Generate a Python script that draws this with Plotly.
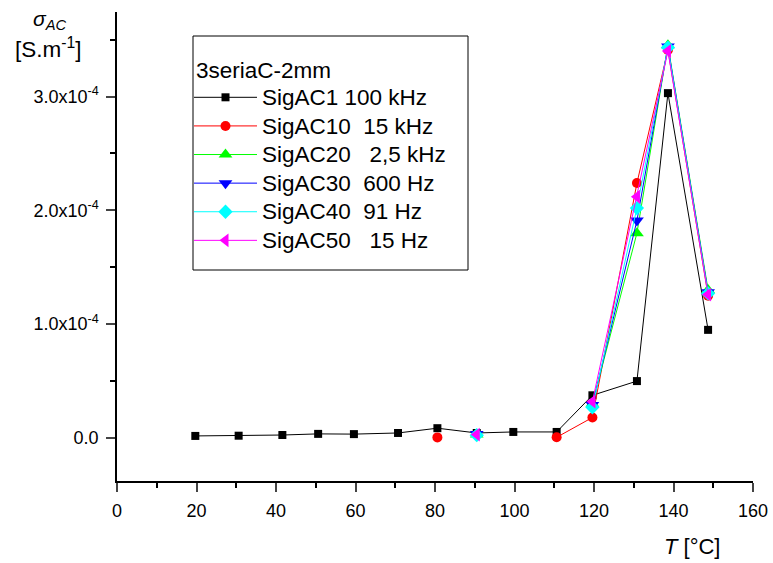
import plotly.graph_objects as go

# ---------------- data ----------------
T_ac1 = [19.7, 30.6, 41.6, 50.6, 59.6, 70.7, 80.6, 90.5, 99.7, 110.6, 119.6, 130.8, 138.6, 148.7]
sig_ac1 = [1.8e-6, 2.0e-6, 2.6e-6, 3.6e-6, 3.4e-6, 4.4e-6, 8.6e-6, 4.4e-6, 5.3e-6, 5.3e-6,
           3.75e-5, 5.0e-5, 3.03e-4, 9.5e-5]

T_ac10 = [80.6, 90.5, 110.6, 119.6, 130.8, 138.6, 148.7]
sig_ac10 = [0.5e-6, None, 0.6e-6, 1.8e-5, 2.24e-4, 3.41e-4, 1.25e-4]

T_other = [90.5, 110.6, 119.6, 130.8, 138.6, 148.7]
sig_ac20 = [3.0e-6, None, 3.0e-5, 1.80e-4, 3.45e-4, 1.30e-4]
sig_ac30 = [3.5e-6, None, 2.9e-5, 1.91e-4, 3.44e-4, 1.28e-4]
sig_ac40 = [2.5e-6, None, 2.7e-5, 2.02e-4, 3.43e-4, 1.27e-4]
sig_ac50 = [3.0e-6, None, 3.2e-5, 2.12e-4, 3.40e-4, 1.26e-4]

legend_title = "3seriaC-2mm"
series_names = ["SigAC1\u00a0100 kHz", "SigAC10\u00a0\u00a015 kHz", "SigAC20\u00a0\u00a0\u00a02,5 kHz",
                "SigAC30\u00a0\u00a0600 Hz", "SigAC40\u00a0\u00a091 Hz", "SigAC50\u00a0\u00a0\u00a015 Hz"]

x_tickvals = [0, 20, 40, 60, 80, 100, 120, 140, 160]
y_tickvals = [0, 1e-4, 2e-4, 3e-4]
y_ticktext = ["0.0", "1.0x10<sup>-4</sup>", "2.0x10<sup>-4</sup>", "3.0x10<sup>-4</sup>"]

FONT = "Arial, Liberation Sans, sans-serif"
W, H = 773, 563
L, R, T, B = 117, 20, 12, 82
PW, PH = W - L - R, H - T - B


def px_x(px):
    return (px - L) / PW


def px_y(py):
    return (H - B - py) / PH


fig = go.Figure()

traces = [
    (T_ac1, sig_ac1, series_names[0], "#000000", "square", 8),
    (T_ac10, sig_ac10, series_names[1], "#ff0000", "circle", 10),
    (T_other, sig_ac20, series_names[2], "#00ff00", "triangle-up", 12),
    (T_other, sig_ac30, series_names[3], "#0000ff", "triangle-down", 12),
    (T_other, sig_ac40, series_names[4], "#00ffff", "diamond", 11),
    (T_other, sig_ac50, series_names[5], "#ff00ff", "triangle-left", 12),
]
for xs, ys, name, col, sym, sz in traces:
    fig.add_trace(go.Scatter(
        x=xs, y=ys, mode="lines+markers",
        name='<span style="font-size:22.5px">' + name + "</span>",
        line=dict(color=col, width=1),
        marker=dict(symbol=sym, size=sz, color=col, line=dict(width=0)),
        connectgaps=False,
    ))

fig.update_layout(
    width=W, height=H,
    margin=dict(l=L, r=R, t=T, b=B, autoexpand=False),
    paper_bgcolor="white", plot_bgcolor="white",
    font=dict(family=FONT, size=18, color="black"),
    showlegend=True,
    legend=dict(
        x=px_x(189), y=px_y(78),
        xanchor="left", yanchor="top",
        bgcolor="rgba(0,0,0,0)", borderwidth=0,
        font=dict(family=FONT, size=19.7, color="black"),
        itemwidth=63,
    ),
    xaxis=dict(
        range=[0, 160], tickvals=x_tickvals, ticks="outside", ticklen=9, tickwidth=1.5,
        showline=True, linecolor="black", linewidth=1.5, showgrid=False, zeroline=False,
        tickfont=dict(size=18), automargin=False, ticklabelstandoff=4,
        minor=dict(ticks="outside", dtick=10, tick0=0, ticklen=5, tickwidth=1.5, tickcolor="black"),
    ),
    yaxis=dict(
        range=[-0.378e-4, 3.743e-4], tickvals=y_tickvals, ticktext=y_ticktext,
        ticks="outside", ticklen=9, tickwidth=1.5,
        showline=True, linecolor="black", linewidth=1.5, showgrid=False, zeroline=False,
        tickfont=dict(size=18), automargin=False, ticklabelstandoff=4,
        minor=dict(ticks="outside", dtick=0.5e-4, tick0=0, ticklen=5, tickwidth=1.5, tickcolor="black"),
    ),
)

# legend frame and title
fig.add_shape(type="rect", xref="paper", yref="paper",
              x0=px_x(193), x1=px_x(468), y0=px_y(270), y1=px_y(36),
              line=dict(color="black", width=1), fillcolor="rgba(0,0,0,0)")
fig.add_annotation(xref="paper", yref="paper", x=px_x(194), y=px_y(70),
                   text=legend_title, showarrow=False, font=dict(size=22.5),
                   xanchor="left", yanchor="middle")

# axis titles
fig.add_annotation(xref="paper", yref="paper", x=px_x(49), y=px_y(20),
                   text="<i>σ<sub>AC</sub></i>", showarrow=False, font=dict(size=21),
                   xanchor="center", yanchor="middle")
fig.add_annotation(xref="paper", yref="paper", x=px_x(48), y=px_y(48),
                   text="[S.m<sup>-1</sup>]", showarrow=False, font=dict(size=22.5),
                   xanchor="center", yanchor="middle")
fig.add_annotation(xref="paper", yref="paper", x=px_x(692), y=px_y(546),
                   text="<i>T</i> [°C]", showarrow=False, font=dict(size=22),
                   xanchor="center", yanchor="middle")

fig.write_html("out.html", config={"displayModeBar": False},
               post_script="document.body.style.margin='0';")
